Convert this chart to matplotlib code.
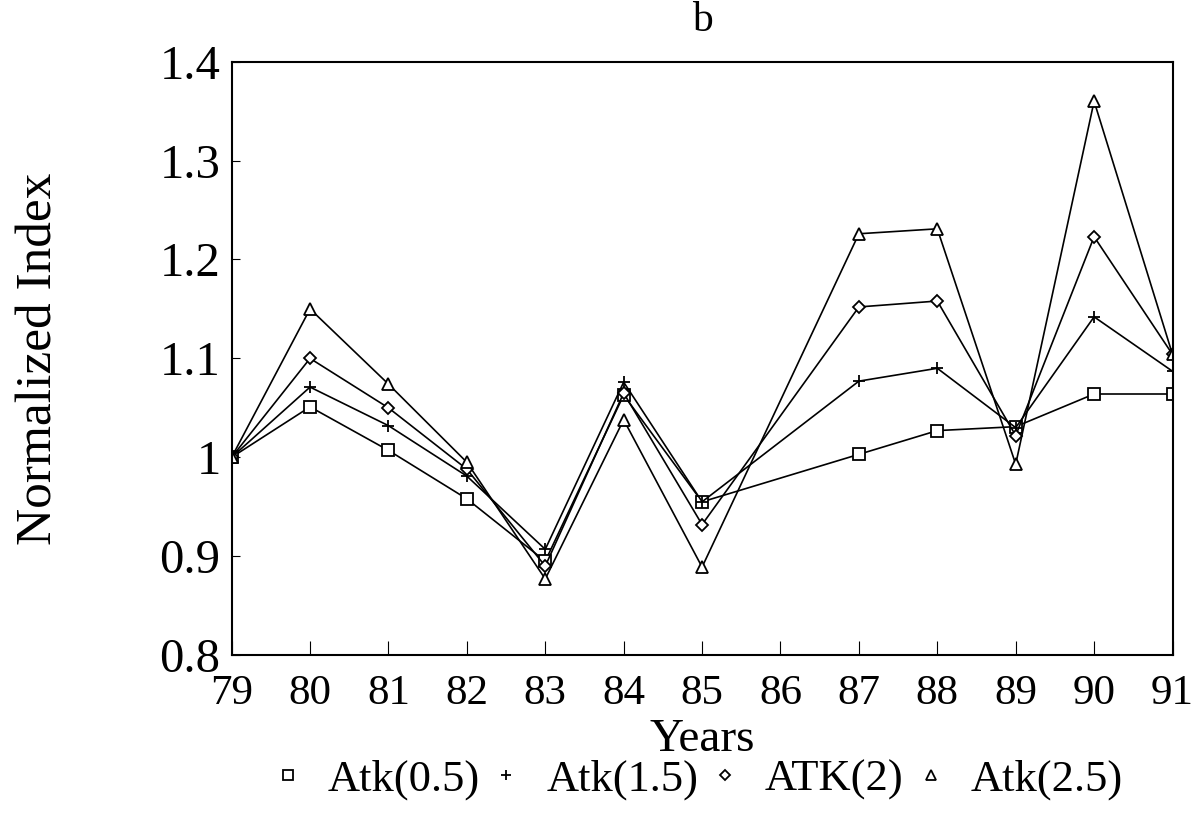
import matplotlib.pyplot as plt
import numpy as np

plt.rcParams['font.family'] = ['Liberation Serif', 'DejaVu Serif']

years = [79, 80, 81, 82, 83, 84, 85, 87, 88, 89, 90, 91]
atk05 = [1.0, 1.051, 1.007, 0.958, 0.895, 1.063, 0.955, 1.003, 1.027, 1.031, 1.064, 1.064]
atk15 = [1.0, 1.071, 1.032, 0.981, 0.907, 1.076, 0.955, 1.077, 1.090, 1.030, 1.142, 1.087]
atk2 = [1.0, 1.100, 1.050, 0.988, 0.890, 1.065, 0.932, 1.152, 1.158, 1.022, 1.223, 1.104]
atk25 = [1.0, 1.150, 1.074, 0.995, 0.877, 1.038, 0.889, 1.226, 1.231, 0.993, 1.360, 1.104]

series = [
    ('Atk(0.5)', atk05, 's'),
    ('Atk(1.5)', atk15, '+'),
    ('ATK(2)', atk2, 'D'),
    ('Atk(2.5)', atk25, '^'),
]

fig = plt.figure(figsize=(11.94, 8.22), dpi=100)
ax = fig.add_axes([0.194, 0.203, 0.788, 0.722])

for label, vals, m in series:
    ms = 6 if m == 'D' else 9
    ax.plot(years, vals, '-', color='black', lw=1.2, marker=m, ms=ms,
            mfc='white', mec='black', mew=1.3, label=label)

ax.set_xlim(79, 91)
ax.set_ylim(0.8, 1.4)
ax.set_xticks(range(79, 92))
ax.set_yticks([0.8, 0.9, 1.0, 1.1, 1.2, 1.3, 1.4])
ax.set_yticklabels(['0.8', '0.9', '1', '1.1', '1.2', '1.3', '1.4'])
ax.tick_params(axis='x', direction='in', length=10, labelsize=31, pad=14)
ax.tick_params(axis='y', direction='in', length=6, labelsize=35, pad=8)
for s in ax.spines.values():
    s.set_linewidth(1.5)

ax.set_title('b', fontsize=30, pad=22)
ax.set_xlabel('Years', fontsize=34, labelpad=4)
ax.set_ylabel('Normalized Index', fontsize=37, labelpad=70)

leg = fig.legend(loc='lower center', bbox_to_anchor=(0.585, -0.022), ncol=4,
                 frameon=False, fontsize=32, handlelength=0.6,
                 handletextpad=0.6, columnspacing=0.3, markerscale=0.8)
for h in leg.legend_handles:
    h.set_linestyle('none')

fig.savefig('out.png', dpi=100)
